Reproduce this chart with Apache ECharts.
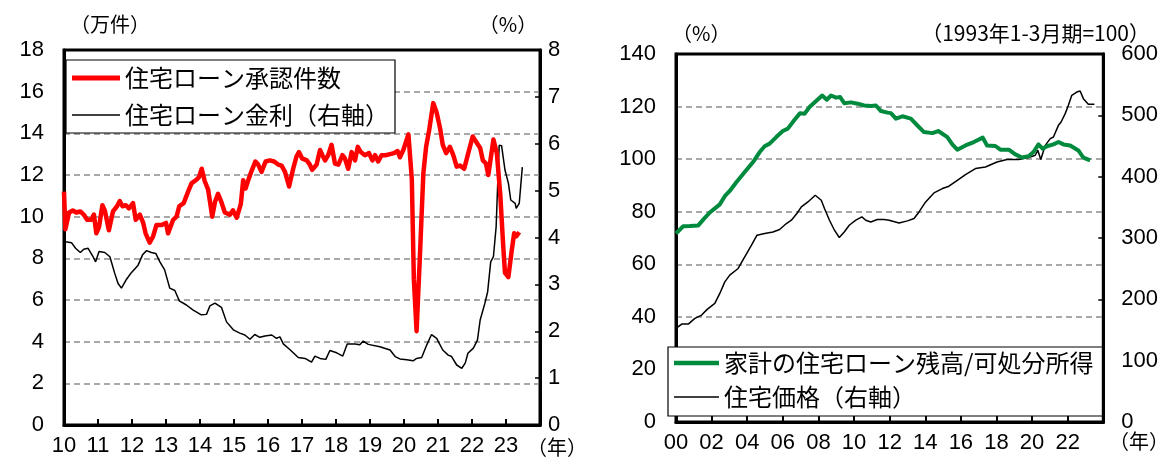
<!DOCTYPE html>
<html>
<head>
<meta charset="utf-8">
<script src="https://cdn.jsdelivr.net/npm/echarts@6/dist/echarts.min.js"></script>
<style>
  html, body { margin: 0; padding: 0; background: #fff; }
  #chart { width: 1161px; height: 460px; }
</style>
</head>
<body>
<div id="chart"></div>
<script>
// ---- Left panel: housing-loan approvals (10k) and mortgage rate (%) ----
// [decimal year, value]
const loanApprovals = [
  [2010.00, 11.2], [2010.04, 9.4], [2010.15, 10.2], [2010.26, 10.3], [2010.36, 10.2], [2010.48, 10.25],
  [2010.58, 10.1], [2010.68, 9.85], [2010.80, 9.85], [2010.88, 10.1], [2010.95, 9.2], [2011.03, 9.5],
  [2011.13, 10.55], [2011.20, 10.3], [2011.32, 9.35], [2011.44, 10.25], [2011.56, 10.5], [2011.64, 10.75],
  [2011.72, 10.5], [2011.82, 10.55], [2011.91, 10.4], [2012.03, 10.65], [2012.11, 9.85], [2012.23, 10.1],
  [2012.33, 9.7], [2012.40, 9.2], [2012.52, 8.75], [2012.62, 9.05], [2012.72, 9.6], [2012.87, 9.6],
  [2013.00, 9.7], [2013.06, 9.2], [2013.21, 9.85], [2013.31, 10.0], [2013.39, 10.5], [2013.52, 10.65],
  [2013.65, 11.2], [2013.75, 11.6], [2013.88, 11.75], [2013.97, 11.9], [2014.05, 12.3], [2014.14, 11.7],
  [2014.24, 11.3], [2014.36, 10.0], [2014.44, 10.7], [2014.53, 11.1], [2014.63, 10.7], [2014.73, 10.2],
  [2014.88, 10.1], [2014.97, 10.3], [2015.08, 9.95], [2015.20, 10.6], [2015.27, 11.75], [2015.34, 11.35],
  [2015.44, 11.85], [2015.53, 12.25], [2015.63, 12.65], [2015.71, 12.5], [2015.81, 12.15], [2015.93, 12.65],
  [2016.05, 12.7], [2016.18, 12.65], [2016.30, 12.5], [2016.40, 12.45], [2016.50, 12.15], [2016.62, 11.45],
  [2016.74, 12.3], [2016.84, 12.9], [2016.91, 13.1], [2017.00, 12.8], [2017.14, 12.7], [2017.23, 12.5],
  [2017.30, 12.25], [2017.43, 12.5], [2017.53, 13.2], [2017.60, 12.95], [2017.68, 12.7], [2017.77, 12.95],
  [2017.87, 13.45], [2017.97, 12.55], [2018.07, 12.5], [2018.19, 12.95], [2018.26, 12.8], [2018.36, 12.3],
  [2018.46, 13.1], [2018.56, 12.7], [2018.64, 13.35], [2018.73, 13.1], [2018.85, 12.95], [2018.97, 13.05],
  [2019.07, 12.7], [2019.15, 12.95], [2019.24, 12.65], [2019.34, 12.95], [2019.46, 12.95], [2019.59, 13.0],
  [2019.71, 13.05], [2019.81, 13.15], [2019.88, 12.85], [2019.98, 13.2], [2020.13, 13.95], [2020.23, 11.8],
  [2020.29, 7.0], [2020.37, 4.5], [2020.47, 8.2], [2020.57, 12.1], [2020.65, 13.35], [2020.74, 14.15],
  [2020.86, 15.45], [2020.96, 15.0], [2021.06, 14.25], [2021.14, 13.45], [2021.24, 13.05], [2021.35, 13.35],
  [2021.45, 12.95], [2021.55, 12.4], [2021.65, 12.45], [2021.77, 12.3], [2021.89, 13.05], [2022.02, 13.85],
  [2022.12, 13.6], [2022.24, 13.3], [2022.32, 12.7], [2022.41, 12.55], [2022.48, 12.0], [2022.63, 13.7],
  [2022.73, 13.05], [2022.83, 11.1], [2022.92, 8.55], [2022.97, 7.3], [2023.07, 7.1], [2023.17, 8.4],
  [2023.24, 9.2], [2023.30, 9.05], [2023.39, 9.25]
];

const mortgageRate = [
  [2010.00, 4.0], [2010.05, 3.91], [2010.22, 3.89], [2010.34, 3.77], [2010.48, 3.68], [2010.58, 3.75],
  [2010.71, 3.77], [2010.84, 3.61], [2010.93, 3.48], [2011.03, 3.70], [2011.20, 3.68], [2011.35, 3.59],
  [2011.49, 3.24], [2011.59, 3.02], [2011.69, 2.92], [2011.84, 3.11], [2011.98, 3.25], [2012.18, 3.41],
  [2012.31, 3.63], [2012.43, 3.72], [2012.57, 3.68], [2012.70, 3.66], [2012.82, 3.48], [2012.96, 3.31],
  [2013.11, 2.92], [2013.26, 2.87], [2013.39, 2.65], [2013.60, 2.56], [2013.80, 2.45], [2014.04, 2.35],
  [2014.19, 2.36], [2014.29, 2.54], [2014.44, 2.60], [2014.63, 2.51], [2014.78, 2.20], [2014.98, 2.03],
  [2015.17, 1.96], [2015.32, 1.92], [2015.47, 1.83], [2015.61, 1.93], [2015.76, 1.87], [2015.91, 1.90],
  [2016.11, 1.92], [2016.25, 1.85], [2016.35, 1.88], [2016.45, 1.73], [2016.64, 1.61], [2016.89, 1.44],
  [2017.09, 1.42], [2017.28, 1.34], [2017.38, 1.47], [2017.53, 1.42], [2017.70, 1.40], [2017.82, 1.59],
  [2018.02, 1.54], [2018.20, 1.47], [2018.33, 1.73], [2018.56, 1.73], [2018.70, 1.71], [2018.80, 1.79],
  [2018.95, 1.72], [2019.29, 1.67], [2019.59, 1.60], [2019.74, 1.46], [2019.88, 1.41], [2020.08, 1.39],
  [2020.27, 1.37], [2020.37, 1.42], [2020.52, 1.44], [2020.67, 1.71], [2020.81, 1.93], [2020.96, 1.85],
  [2021.14, 1.60], [2021.30, 1.49], [2021.40, 1.46], [2021.55, 1.28], [2021.70, 1.21], [2021.80, 1.32],
  [2021.88, 1.53], [2022.04, 1.64], [2022.16, 1.81], [2022.24, 2.24], [2022.38, 2.60], [2022.46, 2.84],
  [2022.55, 3.48], [2022.63, 3.59], [2022.71, 4.23], [2022.76, 5.23], [2022.80, 5.97], [2022.87, 5.96],
  [2022.97, 5.44], [2023.07, 5.16], [2023.14, 4.80], [2023.27, 4.73], [2023.30, 4.62], [2023.39, 4.73],
  [2023.48, 5.50]
];

// ---- Right panel: household mortgage debt / disposable income (%) and house prices (1993Q1=100) ----
const debtToIncome = [
  [2000.00, 71.7], [2000.41, 74.5], [2000.78, 74.6], [2001.25, 74.8], [2001.53, 77.0], [2001.90, 79.7],
  [2002.46, 82.8], [2002.74, 85.9], [2003.02, 87.9], [2003.40, 91.3], [2003.86, 95.1], [2004.33, 98.9],
  [2004.70, 102.7], [2004.98, 104.9], [2005.26, 105.9], [2005.63, 108.4], [2006.00, 110.7], [2006.28, 111.6],
  [2006.66, 115.0], [2006.97, 117.5], [2007.22, 117.3], [2007.50, 119.8], [2007.87, 122.1], [2008.21, 124.2],
  [2008.47, 122.6], [2008.71, 124.2], [2008.99, 123.4], [2009.22, 123.6], [2009.45, 121.3], [2009.83, 121.6],
  [2010.20, 121.1], [2010.57, 120.4], [2010.95, 120.2], [2011.23, 120.4], [2011.51, 118.3], [2011.88, 117.7],
  [2012.07, 117.5], [2012.35, 115.4], [2012.72, 116.3], [2013.19, 115.4], [2013.56, 112.8], [2013.93, 110.3],
  [2014.40, 109.9], [2014.73, 110.7], [2015.24, 108.4], [2015.52, 105.6], [2015.80, 103.6], [2016.26, 105.2],
  [2016.73, 106.5], [2017.23, 108.2], [2017.47, 105.2], [2017.94, 105.0], [2018.22, 103.6], [2018.69, 103.6],
  [2019.06, 101.8], [2019.43, 100.6], [2019.80, 101.1], [2020.08, 102.7], [2020.36, 105.6], [2020.59, 104.0],
  [2020.83, 104.9], [2021.20, 105.6], [2021.48, 106.5], [2021.76, 105.6], [2022.14, 105.2], [2022.60, 103.3],
  [2022.88, 100.6], [2023.26, 99.5]
];

const housePrice = [
  [2000.00, 152.6], [2000.32, 159.6], [2000.69, 159.6], [2001.06, 168.9], [2001.44, 174.3], [2001.75, 183.6],
  [2002.18, 193.3], [2002.46, 209.6], [2002.74, 228.5], [2003.02, 239.4], [2003.49, 250.3], [2003.86, 269.2],
  [2004.24, 288.3], [2004.55, 304.6], [2004.98, 307.3], [2005.45, 309.9], [2005.82, 313.8], [2006.20, 323.6],
  [2006.48, 329.0], [2006.79, 339.9], [2007.04, 350.7], [2007.41, 358.8], [2007.82, 369.7], [2008.16, 361.6],
  [2008.34, 348.0], [2008.62, 329.0], [2008.90, 312.7], [2009.17, 300.8], [2009.45, 309.9], [2009.73, 320.8],
  [2010.10, 329.0], [2010.44, 334.4], [2010.66, 329.0], [2010.94, 326.2], [2011.31, 330.1], [2011.69, 330.1],
  [2011.97, 329.0], [2012.53, 324.6], [2013.00, 327.9], [2013.37, 331.8], [2013.65, 342.5], [2014.02, 358.8],
  [2014.49, 373.5], [2014.96, 380.6], [2015.33, 384.4], [2015.80, 394.1], [2016.26, 403.4], [2016.82, 413.2],
  [2017.38, 415.8], [2018.03, 423.9], [2018.59, 427.9], [2019.24, 427.9], [2019.80, 431.1], [2020.18, 434.9],
  [2020.32, 443.0], [2020.49, 427.9], [2020.74, 451.1], [2021.02, 462.1], [2021.20, 464.7], [2021.48, 483.7],
  [2021.63, 489.1], [2021.86, 502.8], [2022.04, 516.3], [2022.23, 532.6], [2022.51, 537.9], [2022.70, 539.6],
  [2022.88, 527.2], [2023.16, 517.9], [2023.50, 517.9]
];

const NUM_FONT = "'Liberation Sans', sans-serif";
const JP_FONT = "'Noto Sans CJK JP', sans-serif";

// Legend swatches: flat bars whose height mimics each series' stroke width
const THICK_SWATCH = 'path://M0,0H100V10H0Z';
const THIN_SWATCH = 'path://M0,0H100V3H0Z';

const yearLabel = (max) => (v) => (v >= max ? '' : String(v % 100).padStart(2, '0'));

const gridLine = {
  show: true,
  showMinLine: false,
  showMaxLine: false,
  lineStyle: { color: '#8c8c8c', width: 1.5, type: [6, 4] }
};

const numLabel = (margin) => ({
  color: '#000', fontFamily: NUM_FONT, fontSize: 22, margin: margin
});

const chart = echarts.init(document.getElementById('chart'), null, { renderer: 'canvas' });

chart.setOption({
  animation: false,
  backgroundColor: '#fff',
  grid: [
    { left: 64, right: 621, top: 50, bottom: 35, show: true, borderColor: '#000', borderWidth: 3, backgroundColor: 'transparent' },
    { left: 676, right: 56, top: 54, bottom: 38, show: true, borderColor: '#000', borderWidth: 3, backgroundColor: 'transparent' }
  ],
  xAxis: [
    {
      type: 'value', gridIndex: 0, min: 2010, max: 2024, interval: 1,
      axisLine: { show: true, lineStyle: { color: '#000', width: 3 } },
      axisTick: { show: true, inside: true, length: 6, lineStyle: { color: '#000', width: 2 } },
      axisLabel: Object.assign(numLabel(10), { formatter: yearLabel(2024) }),
      splitLine: { show: false }
    },
    {
      type: 'value', gridIndex: 1, min: 2000, max: 2024, interval: 2,
      axisLine: { show: true, lineStyle: { color: '#000', width: 3 } },
      axisTick: { show: true, inside: true, length: 6, lineStyle: { color: '#000', width: 2 } },
      axisLabel: Object.assign(numLabel(10), { formatter: yearLabel(2024) }),
      splitLine: { show: false }
    }
  ],
  yAxis: [
    {
      type: 'value', gridIndex: 0, position: 'left', min: 0, max: 18, interval: 2,
      axisLine: { show: true, lineStyle: { color: '#000', width: 3 } },
      axisTick: { show: false },
      axisLabel: numLabel(20),
      splitLine: gridLine
    },
    {
      type: 'value', gridIndex: 0, position: 'right', min: 0, max: 8, interval: 1,
      axisLine: { show: true, lineStyle: { color: '#000', width: 3 } },
      axisTick: { show: true, inside: true, length: 5, lineStyle: { color: '#000', width: 1.5 } },
      axisLabel: numLabel(8),
      splitLine: { show: false }
    },
    {
      type: 'value', gridIndex: 1, position: 'left', min: 0, max: 140, interval: 20,
      axisLine: { show: true, lineStyle: { color: '#000', width: 3 } },
      axisTick: { show: false },
      axisLabel: numLabel(20),
      splitLine: gridLine
    },
    {
      type: 'value', gridIndex: 1, position: 'right', min: 0, max: 600, interval: 100,
      axisLine: { show: true, lineStyle: { color: '#000', width: 3 } },
      axisTick: { show: true, inside: true, length: 5, lineStyle: { color: '#000', width: 1.5 } },
      axisLabel: numLabel(18),
      splitLine: { show: false }
    }
  ],
  legend: [
    {
      orient: 'vertical', left: 66, top: 60,
      data: [
        { name: '住宅ローン承認件数', icon: THICK_SWATCH },
        { name: '住宅ローン金利（右軸）', icon: THIN_SWATCH }
      ],
      itemWidth: 48, itemHeight: 14, itemGap: 11,
      padding: [5, 6, 5, 6],
      backgroundColor: '#fff', borderColor: '#000', borderWidth: 1.2, borderRadius: 0,
      textStyle: { color: '#000', fontFamily: JP_FONT, fontSize: 24, lineHeight: 26 }
    },
    {
      orient: 'vertical', left: 668, top: 347,
      data: [
        { name: '家計の住宅ローン残高/可処分所得', icon: THICK_SWATCH },
        { name: '住宅価格（右軸）', icon: THIN_SWATCH }
      ],
      itemWidth: 45, itemHeight: 14, itemGap: 8,
      padding: [3, 9, 6, 6],
      backgroundColor: '#fff', borderColor: '#000', borderWidth: 1.2, borderRadius: 0,
      textStyle: { color: '#000', fontFamily: JP_FONT, fontSize: 24, lineHeight: 26 }
    }
  ],
  series: [
    {
      name: '住宅ローン承認件数', type: 'line', xAxisIndex: 0, yAxisIndex: 0,
      data: loanApprovals, symbol: 'none', z: 3,
      lineStyle: { color: '#ff0000', width: 4.5, join: 'round' }, itemStyle: { color: '#ff0000' }
    },
    {
      name: '住宅ローン金利（右軸）', type: 'line', xAxisIndex: 0, yAxisIndex: 1,
      data: mortgageRate, symbol: 'none', z: 2,
      lineStyle: { color: '#000', width: 1.5 }, itemStyle: { color: '#000' }
    },
    {
      name: '家計の住宅ローン残高/可処分所得', type: 'line', xAxisIndex: 1, yAxisIndex: 2,
      data: debtToIncome, symbol: 'none', z: 3,
      lineStyle: { color: '#008a3e', width: 4, join: 'round' }, itemStyle: { color: '#008a3e' }
    },
    {
      name: '住宅価格（右軸）', type: 'line', xAxisIndex: 1, yAxisIndex: 3,
      data: housePrice, symbol: 'none', z: 2,
      lineStyle: { color: '#000', width: 1.5 }, itemStyle: { color: '#000' }
    }
  ],
  graphic: [
    { type: 'text', x: 70, y: 24, style: { text: '（万件）', font: "20px 'Noto Sans CJK JP'", fill: '#000', verticalAlign: 'middle' } },
    { type: 'text', x: 508, y: 24, style: { text: '（%）', font: "20px 'Noto Sans CJK JP'", fill: '#000', align: 'center', verticalAlign: 'middle' } },
    { type: 'text', x: 557, y: 447, style: { text: '（年）', font: "20px 'Noto Sans CJK JP'", fill: '#000', align: 'center', verticalAlign: 'middle' } },
    { type: 'text', x: 672, y: 33, style: { text: '（%）', font: "20px 'Noto Sans CJK JP'", fill: '#000', verticalAlign: 'middle' } },
    { type: 'text', x: 1150, y: 33, style: { text: '（1993年1-3月期=100）', font: "21px 'Noto Sans CJK JP'", fill: '#000', align: 'right', verticalAlign: 'middle' } },
    { type: 'text', x: 1139, y: 441, style: { text: '（年）', font: "20px 'Noto Sans CJK JP'", fill: '#000', align: 'center', verticalAlign: 'middle' } }
  ]
});
</script>
</body>
</html>
